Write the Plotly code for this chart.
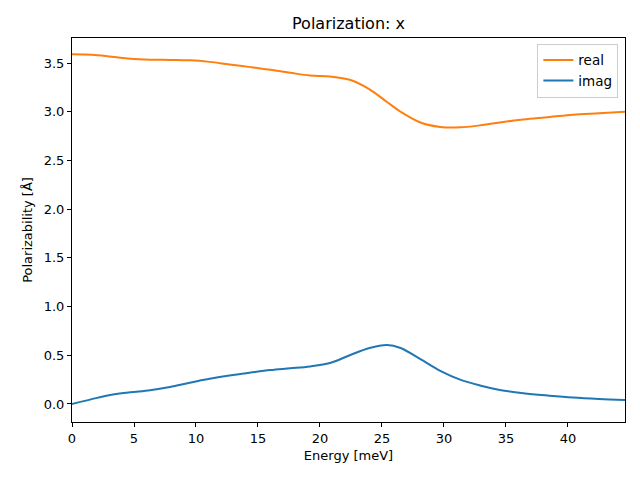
import plotly.graph_objects as go

energy_real = [0, 1.6, 3.2, 4.7, 6.3, 7.9, 9.5, 11.1, 12.7, 14.4, 16, 17.6, 19.2, 20.8, 22.4, 24.0, 25.4, 26.5, 28.1, 29.7, 31.3, 32.9, 34.5, 36.4, 38.5, 40.4, 42.5, 44.6]
real_vals = [3.59, 3.585, 3.565, 3.545, 3.535, 3.532, 3.528, 3.512, 3.485, 3.458, 3.43, 3.40, 3.372, 3.362, 3.328, 3.23, 3.10, 3.00, 2.89, 2.844, 2.84, 2.86, 2.89, 2.92, 2.945, 2.97, 2.985, 3.00]

energy_imag = [0, 1.6, 3.2, 4.7, 6.3, 7.9, 9.5, 11.1, 12.7, 14.4, 16, 17.6, 19.2, 20.8, 22.4, 24.0, 25.4, 26.5, 28.1, 29.7, 31.3, 32.9, 34.5, 36.4, 38.5, 40.4, 42.5, 44.6]
imag_vals = [0, 0.05, 0.095, 0.12, 0.142, 0.175, 0.218, 0.258, 0.292, 0.322, 0.348, 0.366, 0.385, 0.42, 0.50, 0.575, 0.606, 0.575, 0.46, 0.34, 0.25, 0.19, 0.144, 0.11, 0.085, 0.066, 0.052, 0.042]

x_ticks = [0, 5, 10, 15, 20, 25, 30, 35, 40]
y_ticks = [0.0, 0.5, 1.0, 1.5, 2.0, 2.5, 3.0, 3.5]

font = "DejaVu Sans"
fs = 13
fig = go.Figure()
fig.add_trace(go.Scatter(x=energy_real, y=real_vals, mode="lines", name="real",
                         line=dict(color="#ff7f0e", width=2, shape="spline", smoothing=1.0)))
fig.add_trace(go.Scatter(x=energy_imag, y=imag_vals, mode="lines", name="imag",
                         line=dict(color="#1f77b4", width=2, shape="spline", smoothing=1.0)))

axis_common = dict(showline=True, linecolor="black", linewidth=1, mirror=True,
                   ticks="outside", ticklen=4, tickcolor="black", showgrid=False,
                   zeroline=False, automargin=False,
                   tickfont=dict(family=font, size=fs, color="black"))

fig.update_layout(
    width=640, height=480,
    margin=dict(l=64, r=23, t=30, b=66, autoexpand=False),
    paper_bgcolor="white", plot_bgcolor="white",
    title=dict(text="Polarization: x", x=(64 + 617) / 2 / 640, xanchor="center", y=1 - 15/480, yanchor="middle",
               font=dict(family=font, size=16, color="black")),
    xaxis=dict(range=[0, 44.6], tickvals=x_ticks, ticktext=[str(v) for v in x_ticks],
               title=dict(text="Energy [meV]", font=dict(family=font, size=fs, color="black"), standoff=6),
               **axis_common),
    yaxis=dict(range=[-0.185, 3.757], tickvals=y_ticks, ticktext=[f"{v:.1f}" for v in y_ticks],
               title=dict(text="Polarizability [Å]", font=dict(family=font, size=fs, color="black"), standoff=8),
               **axis_common),
    legend=dict(x=0.988, y=0.985, xanchor="right", yanchor="top", bordercolor="#cccccc", borderwidth=1,
                bgcolor="rgba(255,255,255,0.8)", font=dict(family=font, size=13.5, color="black")),
    showlegend=True,
)

fig.write_html("out.html")
